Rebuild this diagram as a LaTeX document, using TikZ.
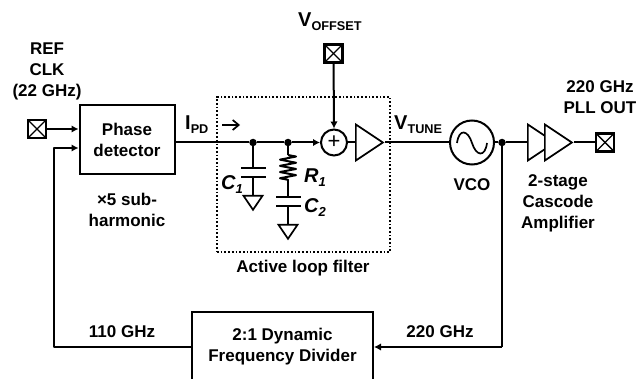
\documentclass[tikz,border=0pt]{standalone}
\usepackage{fontspec}
\setmainfont{Liberation Sans}
\usepackage{xcolor}
\usetikzlibrary{shapes,arrows.meta,positioning,calc,decorations.pathmorphing}

\newcommand{\sublabel}[2]{{\fontsize{20}{20}\selectfont #1\raisebox{-4pt}{\fontsize{12.7}{12.7}\selectfont #2}}}
\newcommand{\partlabel}[2]{{\fontsize{20}{20}\selectfont\itshape #1\raisebox{-4pt}{\fontsize{13}{13}\selectfont #2}}}

\begin{document}
\begin{tikzpicture}[
  x=1pt, y=-1pt,
  wire/.style={line width=2pt, line join=round},
  arrow/.style={wire, -{Latex[length=7pt,width=7.5pt]}},
  blockbox/.style={rectangle, draw, line width=2pt, fill=white, align=center, inner sep=0pt, font=\bfseries\fontsize{17}{21}\selectfont},
  pad/.style={rectangle, draw, line width=2.2pt, minimum size=18pt, inner sep=0pt, path picture={
    \draw[line width=1.4pt] (path picture bounding box.north west) -- (path picture bounding box.south east);
    \draw[line width=1.4pt] (path picture bounding box.north east) -- (path picture bounding box.south west);}},
  amp/.style={isosceles triangle, isosceles triangle stretches, draw, line width=1.7pt, fill=white, inner sep=0pt, minimum height=27pt, minimum width=36pt, anchor=lower side},
  gnd/.style={isosceles triangle, isosceles triangle stretches, shape border rotate=270, draw, line width=1.7pt, inner sep=0pt, minimum height=14pt, minimum width=19pt, anchor=apex},
  plate/.style={rectangle, fill=black, inner sep=0pt, minimum width=25pt, minimum height=2pt},
  junction/.style={circle, fill=black, inner sep=0pt, minimum size=7.5pt},
  lbl/.style={align=center, inner sep=0pt, font=\bfseries\fontsize{17}{21}\selectfont}
]
\useasboundingbox (0,0) rectangle (639,379);

% blocks
\node[blockbox, minimum width=95pt, minimum height=69pt] (phase) at (127,139.5) {Phase\\detector};
\node[blockbox, minimum width=181pt, minimum height=70pt] (divider) at (282.5,347) {2:1 Dynamic\\Frequency Divider};
\node[rectangle, draw, dotted, line width=1.7pt, minimum width=173pt, minimum height=155pt, inner sep=0pt] (filterbox) at (303.5,174.5) {};

% pads
\node[pad] (refpad) at (37,129) {};
\node[pad] (offsetpad) at (333.5,53.5) {};
\node[pad] (outpad) at (605,142.5) {};

% forward path
\node[junction] (dota) at (253,142.5) {};
\node[junction] (dotb) at (288,142.5) {};
\node[circle, draw, line width=2pt, minimum size=26pt, inner sep=0pt, font=\fontsize{22}{22}\selectfont] (sum) at (334,142.5) {+};
\node[amp] (loopamp) at (355,142.5) {};
\node[circle, draw, line width=2pt, minimum size=44pt, inner sep=0pt] (vco) at (472,142.5) {};
\node[junction] (dotc) at (502,142.5) {};
\node[amp] (ampa) at (527,142.5) {};
\node[amp] (ampb) at (544,142.5) {};

% filter parts
\node[plate] (ca) at (253,168) {};
\node[plate] (cb) at (253,177) {};
\node[gnd] (gnda) at (253,212) {};
\coordinate (rtop) at (288,155);
\coordinate (rbot) at (288,180);
\node[plate] (cc) at (288,197) {};
\node[plate] (cd) at (288,206) {};
\node[gnd] (gndb) at (288,241) {};

\draw[arrow] (refpad) -- (refpad -| phase.west);
\coordinate (fbk) at (54,148);
\draw[arrow] (divider.west) -| (fbk) -- (fbk -| phase.west);
\draw[wire] (dota -| phase.east) -- (dota);
\draw[wire] (dota) -- (dotb);
\draw[arrow] (dotb) -- (sum.west);
\draw[arrow] (offsetpad) -- (sum.north);
\draw[wire] (sum.east) -- (loopamp.lower side);
\draw[wire] (loopamp.apex) -- (vco.west);
\draw[wire] (vco.east) -- (dotc);
\draw[wire] (dotc) -- (ampa.lower side);
\draw[wire] (ampb.apex) -- (outpad.west);
\coordinate (fbturn) at (502,347);
\draw[wire] (dotc) -- (fbturn);
\draw[arrow] (fbturn) -- (divider.east);

\draw[wire] (dota) -- (ca);
\draw[wire] (cb) -- (gnda.lower side);
\draw[wire] (dotb) -- (rtop);
\draw[wire, decorate, decoration={zigzag, amplitude=8pt, segment length=6.2pt}] (rtop) -- (rbot);
\draw[wire] (rbot) -- (cc);
\draw[wire] (cd) -- (gndb.lower side);

% sine in the vco
\draw[line width=1.7pt] (457,143) .. controls (459,128) and (468,130) .. (472,143) .. controls (476,156) and (485,158) .. (487,143);

% small current arrow
\coordinate (cura) at (222,125);
\coordinate (curb) at (240,125);
\draw[line width=1.7pt, -{Straight Barb[length=6pt,width=10pt]}] (cura) -- (curb);

% labels
\node[lbl] (reflabel) at (47,71) {REF\\CLK\\(22 GHz)};
\node[lbl] (sublbl) at (127,209.5) {×5 sub-\\harmonic};
\node[lbl, anchor=west] (ipd) at (185,125) {\sublabel{I}{PD}};
\node[lbl, anchor=west] (voffset) at (298,22) {\sublabel{V}{OFFSET}};
\node[lbl, anchor=west] (vtune) at (394,125) {\sublabel{V}{TUNE}};
\node[lbl] (filterlbl) at (303,268) {Active loop filter};
\node[lbl] (vcolbl) at (472,185) {VCO};
\node[lbl] (outlbl) at (600,97.5) {220 GHz\\PLL OUT};
\node[lbl] (amplbl) at (558,203.5) {2-stage\\Cascode\\Amplifier};
\node[lbl] (lowfreq) at (122,332) {110 GHz};
\node[lbl] (highfreq) at (440,332) {220 GHz};
\node[lbl, anchor=west] (cone) at (221,185) {\partlabel{C}{1}};
\node[lbl, anchor=west] (rone) at (304,178) {\partlabel{R}{1}};
\node[lbl, anchor=west] (ctwo) at (304,208) {\partlabel{C}{2}};
\end{tikzpicture}
\end{document}
